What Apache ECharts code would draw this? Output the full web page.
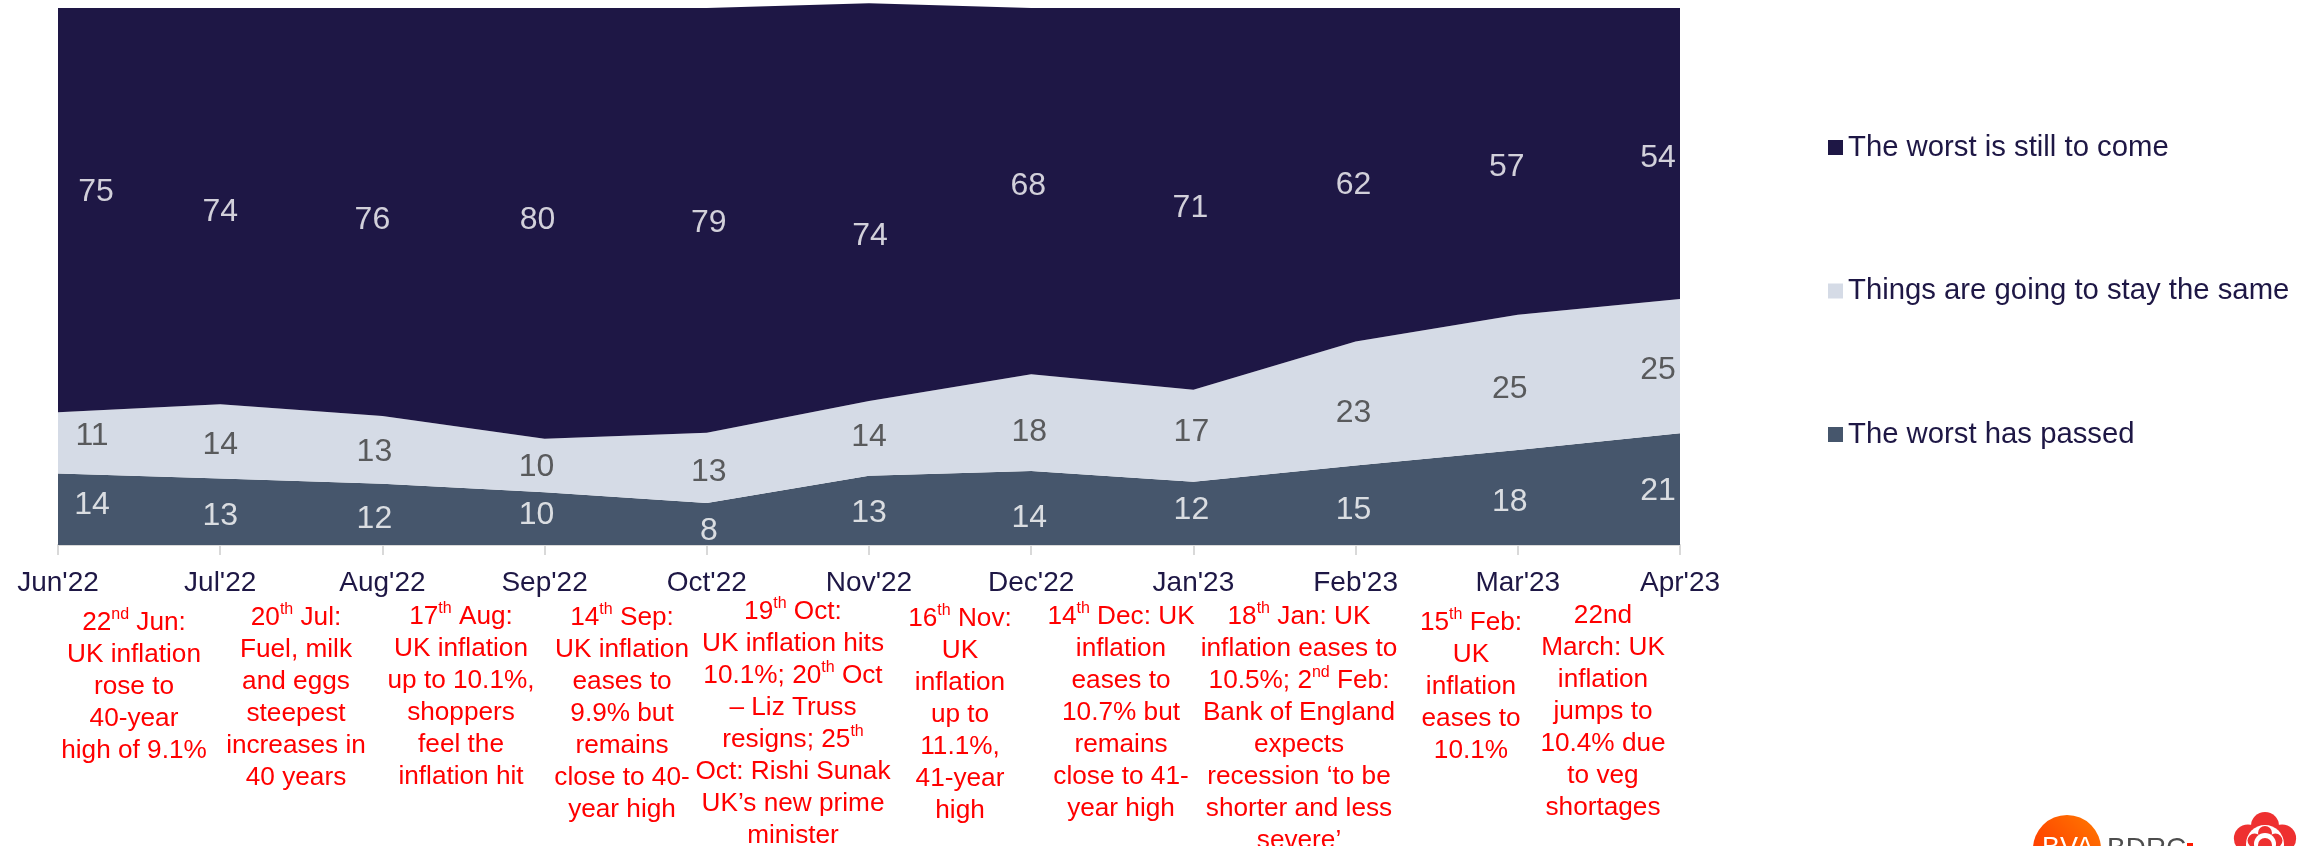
<!DOCTYPE html>
<html>
<head>
<meta charset="utf-8">
<title>UK outlook tracker</title>
<style>
  html, body { margin: 0; padding: 0; background: #fff; }
  #chart { width: 2316px; height: 846px; overflow: hidden; }
</style>
</head>
<body>
<div id="chart"></div>
<script src="https://cdn.jsdelivr.net/npm/echarts@6/dist/echarts.min.js"></script>
<script>
const months = ["Jun'22", "Jul'22", "Aug'22", "Sep'22", "Oct'22", "Nov'22", "Dec'22", "Jan'23", "Feb'23", "Mar'23", "Apr'23"]

// band heights as they are drawn
const passedValues = [13.3, 12.4, 11.4, 9.8, 7.8, 12.9, 13.8, 11.8, 14.8, 17.7, 20.8]
const sameValues = [11.4, 13.8, 12.6, 10, 13.1, 13.9, 18, 17.1, 23.1, 25.2, 25]
const comeValues = [75.3, 73.8, 76, 80.2, 79.1, 74.1, 68.2, 71.1, 62.1, 57.1, 54.2]

// numbers printed on the bands
const passedLabels = [14, 13, 12, 10, 8, 13, 14, 12, 15, 18, 21]
const sameLabels = [11, 14, 13, 10, 13, 14, 18, 17, 23, 25, 25]
const comeLabels = [75, 74, 76, 80, 79, 74, 68, 71, 62, 57, 54]

// height of the printed numbers, in axis units
const passedLabelY = [7.9, 5.9, 5.4, 6.2, 3.1, 6.5, 5.6, 7, 7, 8.5, 10.6]
const sameLabelY = [20.8, 19.1, 17.9, 15.1, 14.2, 20.6, 21.5, 21.6, 25.1, 29.6, 33.1]
const comeLabelY = [66.3, 62.6, 61.1, 61.1, 60.5, 58.1, 67.4, 63.3, 67.6, 70.9, 72.6]
const labelShiftX = [34, 0, -8, -8, 2, 0, -2, -2, -2, -8, -22]
const comeShiftX = [38, 0, -10, -7, 2, 1, -3, -3, -2, -11, -22]

// ^..^ marks a superscript
const noteLines = [
  ['22^nd^ Jun:', 'UK inflation', 'rose to', '40-year', 'high of 9.1%'],
  ['20^th^ Jul:', 'Fuel, milk', 'and eggs', 'steepest', 'increases in', '40 years'],
  ['17^th^ Aug:', 'UK inflation', 'up to 10.1%,', 'shoppers', 'feel the', 'inflation hit'],
  ['14^th^ Sep:', 'UK inflation', 'eases to', '9.9% but', 'remains', 'close to 40-', 'year high'],
  ['19^th^ Oct:', 'UK inflation hits', '10.1%; 20^th^ Oct', '– Liz Truss', 'resigns; 25^th^', 'Oct: Rishi Sunak', 'UK’s new prime', 'minister'],
  ['16^th^ Nov:', 'UK', 'inflation', 'up to', '11.1%,', '41-year', 'high'],
  ['14^th^ Dec: UK', 'inflation', 'eases to', '10.7% but', 'remains', 'close to 41-', 'year high'],
  ['18^th^ Jan: UK', 'inflation eases to', '10.5%; 2^nd^ Feb:', 'Bank of England', 'expects', 'recession ‘to be', 'shorter and less', 'severe’'],
  ['15^th^ Feb:', 'UK', 'inflation', 'eases to', '10.1%'],
  ['22nd', 'March: UK', 'inflation', 'jumps to', '10.4% due', 'to veg', 'shortages']
]
const noteX = [134, 296, 461, 622, 793, 960, 1121, 1299, 1471, 1603]
const noteTop = [607, 602, 601, 602, 596, 603, 601, 601, 607, 600]

const FONT = '"Liberation Sans", Arial, sans-serif'
const DARK = '#1e1745'
const LIGHT = '#d5dbe6'
const SLATE = '#46566c'
const ROSE = '#ee3030'

function bandSeries (name, values, color) {
  return {
    name: name,
    type: 'line',
    stack: 'total',
    clip: false,
    symbol: 'none',
    lineStyle: { width: 0 },
    itemStyle: { color: color },
    areaStyle: { color: color, opacity: 1 },
    data: values
  }
}

function labelSeries (name, anchors, labels, shifts, color) {
  return {
    name: name + ' labels',
    type: 'scatter',
    symbolSize: 0,
    silent: true,
    z: 5,
    data: anchors.map((y, i) => ({
      value: y,
      label: {
        show: true,
        position: 'inside',
        offset: [shifts[i], 3],
        formatter: String(labels[i]),
        color: color,
        fontFamily: FONT,
        fontSize: 32
      }
    }))
  }
}

function noteGraphic (lines, i) {
  return {
    type: 'text',
    z: 10,
    style: {
      x: noteX[i],
      y: noteTop[i],
      align: 'center',
      verticalAlign: 'top',
      text: lines.map(l => l.replace(/\^(.+?)\^/g, '{s|$1}')).join('\n'),
      fill: '#ff0000',
      fontFamily: FONT,
      fontSize: 26.2,
      lineHeight: 32,
      rich: {
        s: { fontFamily: FONT, fontSize: 16, fill: '#ff0000', color: '#ff0000', lineHeight: 22, verticalAlign: 'top' }
      }
    }
  }
}

// five circles round a centre, for the rose in the logo
function petals (radius, size, fill) {
  return [0, 1, 2, 3, 4].map(k => ({
    type: 'circle',
    shape: {
      cx: 2265 + radius * Math.sin(k * 2 * Math.PI / 5),
      cy: 844 - radius * Math.cos(k * 2 * Math.PI / 5),
      r: size
    },
    style: { fill: fill }
  }))
}

// cut off by the page edge, same as the reference
const logoGraphics = [
  {
    type: 'circle',
    shape: { cx: 2067, cy: 849, r: 34 },
    style: {
      fill: new echarts.graphic.LinearGradient(1, 0, 0, 1, [
        { offset: 0, color: '#ff7a00' },
        { offset: 1, color: '#ff2a00' }
      ])
    }
  },
  { type: 'text', style: { x: 2068, y: 835, align: 'center', text: 'BVA', fill: '#ffffff', fontFamily: FONT, fontSize: 27 } },
  { type: 'text', style: { x: 2107, y: 835, text: 'BDRC', fill: '#4d4d4d', fontFamily: FONT, fontSize: 28 } },
  { type: 'rect', shape: { x: 2187, y: 843, width: 6, height: 3 }, style: { fill: '#ff1a00' } }
]
  .concat(petals(18, 14, ROSE))
  .concat([{ type: 'circle', shape: { cx: 2265, cy: 844, r: 19 }, style: { fill: '#ffffff' } }])
  .concat(petals(11, 7, ROSE))
  .concat([
    { type: 'circle', shape: { cx: 2265, cy: 844, r: 11 }, style: { fill: '#ffffff' } },
    { type: 'circle', shape: { cx: 2265, cy: 845, r: 7 }, style: { fill: ROSE } }
  ])

const chart = echarts.init(document.getElementById('chart'), null, { renderer: 'canvas' })
chart.setOption({
  animation: false,
  backgroundColor: '#ffffff',
  grid: { left: 58, right: 636, top: 8, height: 537, containLabel: false },
  legend: {
    orient: 'vertical',
    left: 1828,
    top: 133,
    padding: 0,
    itemWidth: 15,
    itemHeight: 15,
    itemGap: 114.5,
    icon: 'rect',
    data: ['The worst is still to come', 'Things are going to stay the same', 'The worst has passed'],
    textStyle: { color: DARK, fontFamily: FONT, fontSize: 29.3 }
  },
  xAxis: {
    type: 'category',
    boundaryGap: false,
    data: months,
    axisLine: { lineStyle: { color: '#d9d9d9', width: 2 } },
    axisTick: { length: 10, lineStyle: { color: '#d9d9d9', width: 2 } },
    axisLabel: { interval: 0, margin: 24, color: DARK, fontFamily: FONT, fontSize: 28 }
  },
  yAxis: {
    type: 'value',
    min: 0,
    max: 100,
    interval: 100,
    axisLine: { show: false },
    axisTick: { show: false },
    axisLabel: { show: false },
    splitLine: { lineStyle: { color: '#d9d9d9', width: 1 } }
  },
  series: [
    bandSeries('The worst has passed', passedValues, SLATE),
    bandSeries('Things are going to stay the same', sameValues, LIGHT),
    bandSeries('The worst is still to come', comeValues, DARK),
    labelSeries('passed', passedLabelY, passedLabels, labelShiftX, '#ffffff'),
    labelSeries('same', sameLabelY, sameLabels, labelShiftX, '#3a3a3a'),
    labelSeries('come', comeLabelY, comeLabels, comeShiftX, '#ffffff')
  ],
  graphic: noteLines.map(noteGraphic).concat(logoGraphics)
})
</script>
</body>
</html>
